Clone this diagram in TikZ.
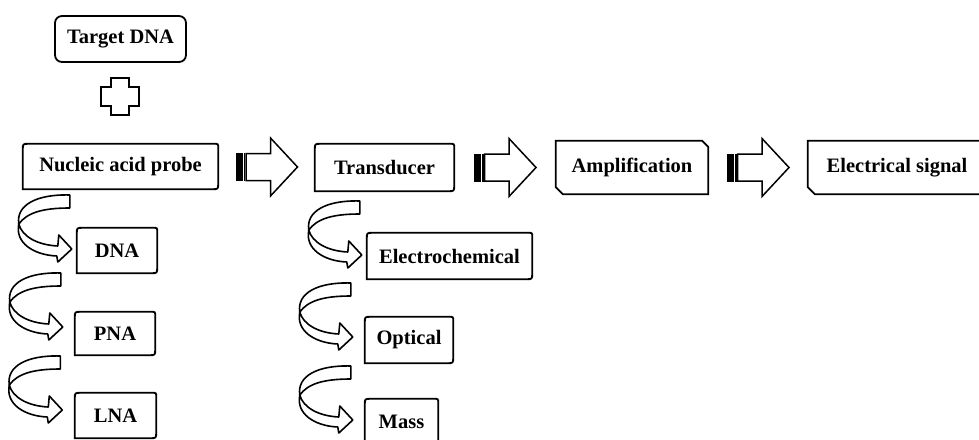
\documentclass[tikz,border=0pt]{standalone}
\usepackage{fontspec}
\setmainfont{Liberation Serif}
\usepackage{tikz}
\usetikzlibrary{calc}
\tikzset{
  boxline/.style={draw=black, line width=1.8pt},
  arrowline/.style={draw=black, fill=white, line width=1.5pt, line join=miter},
  curlline/.style={draw=black, fill=white, line width=1.6pt, line join=round},
  lbl/.style={font=\fontsize{20.5}{24}\selectfont\bfseries, inner sep=0pt},
  curlarrow/.pic={
    \draw[curlline] (-53,-25) .. controls (-50,-13) and (-35,-4) .. (-14,-3)
      -- (-13,-14) -- (0,0) -- (-14,13) -- (-15,7)
      .. controls (-38,6) and (-57,-6) .. (-53,-25) -- cycle;
    \draw[curlline] (-2,-54) -- (-2,-41)
      .. controls (-30,-41) and (-45,-36) .. (-53,-25)
      .. controls (-56,-44) and (-35,-55) .. (-2,-54) -- cycle;
  }
}
% box outlines: rounded corners, square bottom left
\newcommand{\roundsnip}[1]{%
  \draw[boxline] (#1.south west) -- ($(#1.north west)+(0,6)$)
    .. controls (#1.north west) .. ($(#1.north west)+(6,0)$)
    -- ($(#1.north east)+(-4,0)$) .. controls (#1.north east) .. ($(#1.north east)+(0,4)$)
    -- ($(#1.south east)+(0,-6)$) .. controls (#1.south east) .. ($(#1.south east)+(-6,0)$)
    -- cycle;}
% box outlines: cut corners top right and bottom left
\newcommand{\snipbox}[1]{%
  \draw[boxline] (#1.north west) -- ($(#1.north east)+(-6,0)$) -- ($(#1.north east)+(0,6)$)
    -- (#1.south east) -- ($(#1.south west)+(7,0)$) -- ($(#1.south west)+(0,-7)$) -- cycle;}
% striped block arrow between two boxes
\newcommand{\stripearrow}[2]{%
  \begin{scope}[shift={($(#1.east)!0.5!(#2.west)$)}]
    \fill (-31,-14) rectangle (-24,14);
    \fill (-23,-14) rectangle (-21.5,14);
    \draw[arrowline] (-20.5,-13.5) -- (4,-13.5) -- (4,-29) -- (31,0) -- (4,29)
      -- (4,13.5) -- (-20.5,13.5) -- cycle;
  \end{scope}}

\begin{document}
\begin{tikzpicture}[x=1pt, y=-1pt]
  \useasboundingbox (0,0) rectangle (979,439);
  \clip (0,0) rectangle (979,439);

  % main row
  \node[lbl, minimum width=131, minimum height=46, boxline, rounded corners=7pt] (target) at (120.5,39) {Target DNA};
  \node[lbl, minimum width=195, minimum height=45] (probe) at (120.5,166.5) {Nucleic acid probe};
  \node[lbl, minimum width=139, minimum height=47] (trans) at (384.5,167.5) {Transducer};
  \node[lbl, minimum width=152, minimum height=53] (amp) at (632,167.5) {Amplification};
  \node[lbl, minimum width=178, minimum height=53] (signal) at (897,167.5) {Electrical signal};

  % probe types
  \node[lbl, minimum width=80, minimum height=45] (dna) at (117,250.5) {DNA};
  \node[lbl, minimum width=80, minimum height=43] (pna) at (115,333.5) {PNA};
  \node[lbl, minimum width=81, minimum height=45] (lna) at (115.5,415.5) {LNA};

  % transducer types
  \node[lbl, minimum width=165, minimum height=46] (echem) at (449.5,256) {Electrochemical};
  \node[lbl, minimum width=88, minimum height=46] (optical) at (409,340) {Optical};
  \node[lbl, minimum width=73, minimum height=46] (mass) at (401.5,422) {Mass};

  \roundsnip{probe}
  \roundsnip{trans}
  \snipbox{amp}
  \snipbox{signal}
  \roundsnip{dna}
  \roundsnip{pna}
  \roundsnip{lna}
  \roundsnip{echem}
  \roundsnip{optical}
  \roundsnip{mass}

  % plus sign
  \draw[arrowline] (111,78) -- (129,78) -- (129,87) -- (139,87) -- (139,106) -- (129,106)
    -- (129,115) -- (111,115) -- (111,106) -- (101,106) -- (101,87) -- (111,87) -- cycle;

  \stripearrow{probe}{trans}
  \stripearrow{trans}{amp}
  \stripearrow{amp}{signal}

  \pic at ($(dna.west)+(-5,-1.5)$) {curlarrow};
  \pic at ($(pna.west)+(-12,-6.5)$) {curlarrow};
  \pic at ($(lna.west)+(-12.5,-5.5)$) {curlarrow};
  \pic at ($(echem.west)+(-5,-1)$) {curlarrow};
  \pic at ($(optical.west)+(-12,-3)$) {curlarrow};
  \pic at ($(mass.west)+(-12,-2)$) {curlarrow};
\end{tikzpicture}
\end{document}
